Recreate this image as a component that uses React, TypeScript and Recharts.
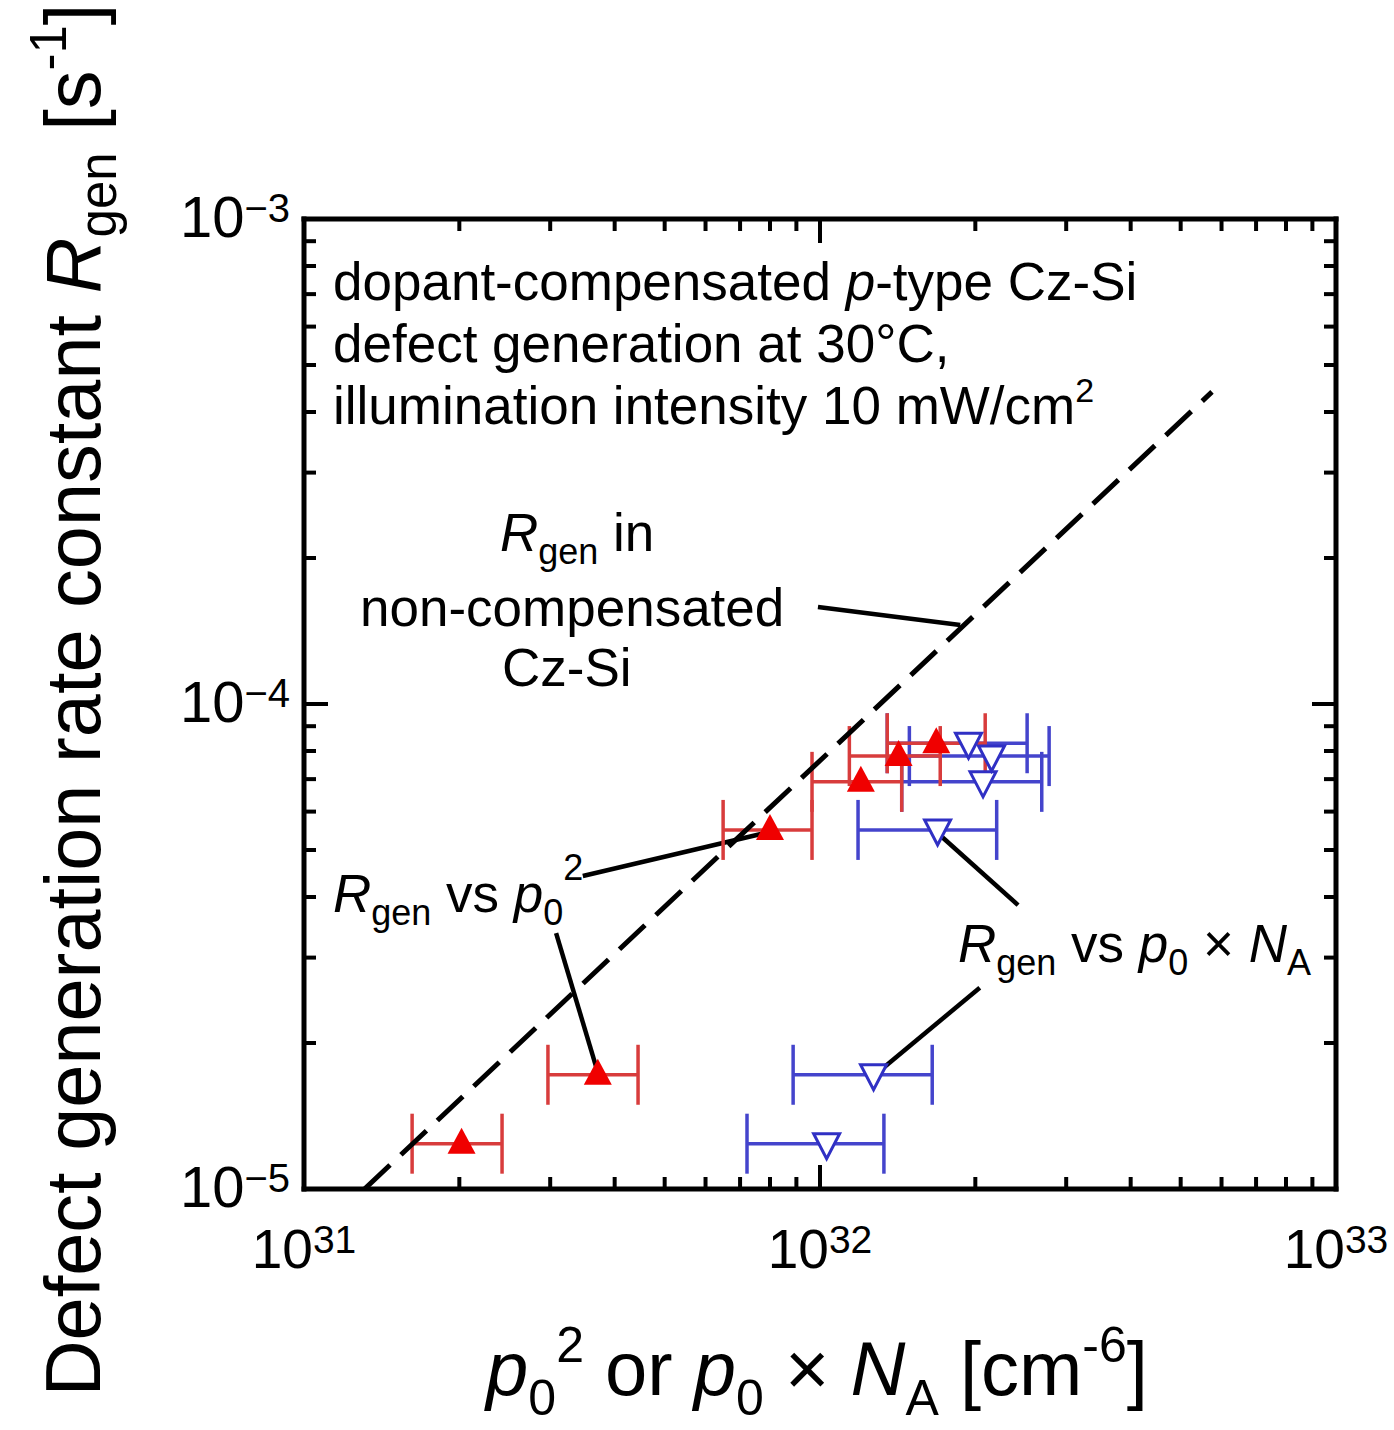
import React from "react";
import { ScatterChart, Scatter, XAxis, YAxis, ErrorBar, ReferenceLine } from "recharts";

const FONT = "'Liberation Sans', Arial, Helvetica, sans-serif";

// both series were measured on the same samples -> shared R_gen values
const rgen = [1.24e-5, 1.72e-5, 5.5e-5, 6.91e-5, 7.81e-5, 8.3e-5];

// R_gen vs p0^2 (red)
const p0sq = [2.02e31, 3.71e31, 8.0e31, 1.2e32, 1.42e32, 1.68e32];
const p0sqLow = [1.62e31, 2.97e31, 6.49e31, 9.65e31, 1.14e32, 1.35e32];
const p0sqHigh = [2.42e31, 4.44e31, 9.65e31, 1.44e32, 1.71e32, 2.09e32];

// R_gen vs p0 x NA (blue)
const p0NA = [1.03e32, 1.27e32, 1.69e32, 2.07e32, 2.15e32, 1.94e32];
const p0NALow = [7.22e31, 8.87e31, 1.185e32, 1.44e32, 1.49e32, 1.35e32];
const p0NAHigh = [1.33e32, 1.65e32, 2.2e32, 2.69e32, 2.78e32, 2.52e32];

// R_gen in non-compensated Cz-Si (dashed)
const fitX = [1.31e31, 5.75e32];
const fitY = [1.0e-5, 4.4e-4];

// annotation pointers
const ptrX1 = [9.91e31, 3.47e31, 3.08e31, 2.42e32, 2.04e32];
const ptrY1 = [1.585e-4, 4.42e-5, 3.37e-5, 3.85e-5, 2.6e-5];
const ptrX2 = [1.87e32, 7.72e31, 3.71e31, 1.69e32, 1.27e32];
const ptrY2 = [1.455e-4, 5.4e-5, 1.74e-5, 5.42e-5, 1.71e-5];

// ticks
const xDecades = [31, 32, 33];
const yDecades = [-5, -4, -3];
const minorMult = [2, 3, 4, 5, 6, 7, 8, 9];

const buildTicks = (decades: number[]) => {
  const t: number[] = [];
  decades.forEach((e, i) => {
    t.push(Number(`1e${e}`));
    if (i < decades.length - 1) minorMult.forEach(m => t.push(Number(`${m}e${e}`)));
  });
  return t;
};
const xTicks = buildTicks(xDecades);
const yTicks = buildTicks(yDecades);

const redData = p0sq.map((x, i) => ({ x, y: rgen[i], err: [x - p0sqLow[i], p0sqHigh[i] - x] }));
const blueData = p0NA.map((x, i) => ({ x, y: rgen[i], err: [x - p0NALow[i], p0NAHigh[i] - x] }));
const fitData = fitX.map((x, i) => ({ x, y: fitY[i] }));

const RED = "#f00000";
const RED_ERR = "#d83c3c";
const BLUE = "#3030c4";
const BLUE_ERR = "#4444cc";

const expOf = (v: number) => Math.round(Math.log10(v));
const isMajor = (v: number) => Math.abs(Math.log10(v) - expOf(v)) < 1e-6;
const MAJ = 24;
const MIN = 12;

const TickBottom = (p: any) => {
  const { x, y, payload } = p;
  const major = isMajor(payload.value);
  return (
    <g>
      <line x1={x} x2={x} y1={y} y2={y - (major ? MAJ : MIN)} stroke="#000" strokeWidth={4} />
      {major && (
        <text x={x} y={y + 79} textAnchor="middle" fontFamily={FONT} fontSize={55} fill="#000">
          10<tspan fontSize={39} dy={-15}>{expOf(payload.value)}</tspan>
        </text>
      )}
    </g>
  );
};

const TickTop = (p: any) => {
  const { x, y, payload } = p;
  const major = isMajor(payload.value);
  return <line x1={x} x2={x} y1={y} y2={y + (major ? MAJ : MIN)} stroke="#000" strokeWidth={4} />;
};

const TickLeft = (p: any) => {
  const { x, y, payload } = p;
  const major = isMajor(payload.value);
  return (
    <g>
      <line x1={x} x2={x + (major ? MAJ : MIN)} y1={y} y2={y} stroke="#000" strokeWidth={4} />
      {major && (
        <text x={x - 14} y={y + 18} textAnchor="end" fontFamily={FONT} fontSize={58} fill="#000">
          10<tspan fontSize={40} dy={-15}>{`−${-expOf(payload.value)}`}</tspan>
        </text>
      )}
    </g>
  );
};

const TickRight = (p: any) => {
  const { x, y, payload } = p;
  const major = isMajor(payload.value);
  return <line x1={x} x2={x - (major ? MAJ : MIN)} y1={y} y2={y} stroke="#000" strokeWidth={4} />;
};

const UpTri = (p: any) => {
  const { cx, cy } = p;
  return <polygon points={`${cx},${cy - 16} ${cx - 14},${cy + 10} ${cx + 14},${cy + 10}`} fill={RED} />;
};

const DownTri = (p: any) => {
  const { cx, cy } = p;
  return (
    <polygon
      points={`${cx - 13},${cy - 10} ${cx + 13},${cy - 10} ${cx},${cy + 15}`}
      fill="#fff"
      stroke={BLUE}
      strokeWidth={3}
    />
  );
};

const Empty = () => <g />;

const axisLine = { stroke: "#000", strokeWidth: 5, strokeLinecap: "square" as const };

const Overlay = () => (
  <svg
    width={1394}
    height={1430}
    style={{ position: "absolute", left: 0, top: 0, pointerEvents: "none", whiteSpace: "pre" }}
    fontFamily={FONT}
    fill="#000"
  >
    <g fontSize={53}>
      <text x={333} y={300}>
        dopant-compensated <tspan fontStyle="italic">p</tspan>-type Cz-Si
      </text>
      <text x={333} y={362}>defect generation at 30°C,</text>
      <text x={333} y={424}>
        illumination intensity 10 mW/cm<tspan fontSize={34} dy={-22}>2</tspan>
      </text>

      <text x={500} y={551}>
        <tspan fontStyle="italic">R</tspan>
        <tspan fontSize={36} dy={13}>gen</tspan>
        <tspan dy={-13}> in</tspan>
      </text>
      <text x={360} y={626}>non-compensated</text>
      <text x={502} y={686}>Cz-Si</text>

      <text x={333} y={912}>
        <tspan fontStyle="italic">R</tspan>
        <tspan fontSize={36} dy={13}>gen</tspan>
        <tspan dy={-13}> vs </tspan>
        <tspan fontStyle="italic">p</tspan>
        <tspan fontSize={36} dy={13}>0</tspan>
        <tspan fontSize={36} dy={-45}>2</tspan>
      </text>

      <text x={958} y={962}>
        <tspan fontStyle="italic">R</tspan>
        <tspan fontSize={36} dy={13}>gen</tspan>
        <tspan dy={-13}> vs </tspan>
        <tspan fontStyle="italic">p</tspan>
        <tspan fontSize={36} dy={13}>0</tspan>
        <tspan dy={-13}> × </tspan>
        <tspan fontStyle="italic">N</tspan>
        <tspan fontSize={36} dy={13}>A</tspan>
      </text>
    </g>

    <text transform="translate(100 700) rotate(-90)" textAnchor="middle" fontSize={77.5}>
      Defect generation rate constant <tspan fontStyle="italic">R</tspan>
      <tspan fontSize={51} dy={16}>gen</tspan>
      <tspan dy={-16}> [s</tspan>
      <tspan fontSize={51} dy={-34}>-1</tspan>
      <tspan dy={34}>]</tspan>
    </text>

    <text x={817} y={1395} textAnchor="middle" fontSize={76}>
      <tspan fontStyle="italic">p</tspan>
      <tspan fontSize={50} dy={20}>0</tspan>
      <tspan fontSize={50} dy={-53}>2</tspan>
      <tspan dy={33}> or </tspan>
      <tspan fontStyle="italic">p</tspan>
      <tspan fontSize={50} dy={20}>0</tspan>
      <tspan dy={-20}> × </tspan>
      <tspan fontStyle="italic">N</tspan>
      <tspan fontSize={50} dy={20}>A</tspan>
      <tspan dy={-20}> [cm</tspan>
      <tspan fontSize={50} dy={-33}>-6</tspan>
      <tspan dy={33}>]</tspan>
    </text>
  </svg>
);

export default function App() {
  return (
    <div style={{ position: "absolute", left: 0, top: 0, width: 1394, height: 1430, background: "#fff" }}>
      <ScatterChart width={1394} height={1430} margin={{ top: 209, right: 48, bottom: 231, left: 294 }}>
        <XAxis
          dataKey="x"
          type="number"
          scale="log"
          domain={[1e31, 1e33]}
          allowDataOverflow
          ticks={xTicks}
          interval={0}
          height={10}
          tickSize={0}
          tickMargin={0}
          axisLine={axisLine}
          tickLine={false}
          tick={TickBottom}
        />
        <XAxis
          xAxisId="top"
          orientation="top"
          dataKey="x"
          type="number"
          scale="log"
          domain={[1e31, 1e33]}
          allowDataOverflow
          ticks={xTicks}
          interval={0}
          height={10}
          tickSize={0}
          tickMargin={0}
          axisLine={axisLine}
          tickLine={false}
          tick={TickTop}
        />
        <YAxis
          dataKey="y"
          type="number"
          scale="log"
          domain={[1e-5, 1e-3]}
          allowDataOverflow
          ticks={yTicks}
          interval={0}
          width={10}
          tickSize={0}
          tickMargin={0}
          axisLine={axisLine}
          tickLine={false}
          tick={TickLeft}
        />
        <YAxis
          yAxisId="right"
          orientation="right"
          dataKey="y"
          type="number"
          scale="log"
          domain={[1e-5, 1e-3]}
          allowDataOverflow
          ticks={yTicks}
          interval={0}
          width={10}
          tickSize={0}
          tickMargin={0}
          axisLine={axisLine}
          tickLine={false}
          tick={TickRight}
        />

        <Scatter
          data={fitData}
          shape={Empty}
          line={{ stroke: "#000", strokeWidth: 5, strokeDasharray: "35 15" }}
          isAnimationActive={false}
        />

        {ptrX1.map((x1, i) => (
          <ReferenceLine
            key={`ptr-${i}`}
            segment={[
              { x: x1, y: ptrY1[i] },
              { x: ptrX2[i], y: ptrY2[i] },
            ]}
            stroke="#000"
            strokeWidth={4.5}
            ifOverflow="visible"
          />
        ))}

        <Scatter data={blueData} shape={DownTri} isAnimationActive={false}>
          <ErrorBar dataKey="err" direction="x" width={30} stroke={BLUE_ERR} strokeWidth={3.5} isAnimationActive={false} />
        </Scatter>
        <Scatter data={redData} shape={UpTri} isAnimationActive={false}>
          <ErrorBar dataKey="err" direction="x" width={30} stroke={RED_ERR} strokeWidth={3.5} isAnimationActive={false} />
        </Scatter>
      </ScatterChart>
      <Overlay />
    </div>
  );
}
